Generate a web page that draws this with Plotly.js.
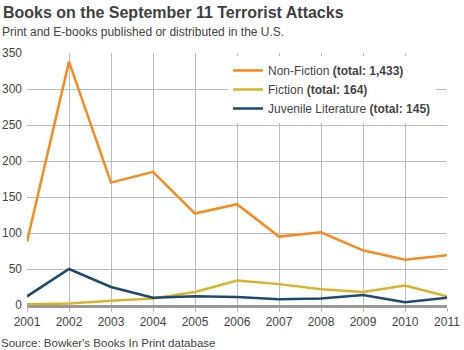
<!DOCTYPE html>
<html>
<head>
<meta charset="utf-8">
<script src="https://cdn.plot.ly/plotly-3.0.1.min.js"></script>
<style>html,body{margin:0;padding:0;background:#fff;}#chart{width:464px;height:350px;}</style>
</head>
<body>
<div id="chart"></div>
<script>
const years = [2001, 2002, 2003, 2004, 2005, 2006, 2007, 2008, 2009, 2010, 2011];
const nonFiction = [88, 338, 170, 185, 127, 140, 95, 101, 76, 63, 69];
const fiction = [1, 2, 6, 9, 18, 34, 29, 22, 18, 27, 12];
const juvenile = [12, 50, 25, 10, 12, 11, 8, 9, 14, 4, 10];
const seriesNames = [
  'Non-Fiction <b>(total: 1,433)</b>',
  'Fiction <b>(total: 164)</b>',
  'Juvenile Literature <b>(total: 145)</b>'
];
const yTicks = [0, 50, 100, 150, 200, 250, 300, 350];

const font = 'Liberation Sans, Arial, Helvetica, sans-serif';
const colors = ['#F68B1F', '#D8B42A', '#1D4A6F'];
const seriesData = [nonFiction, fiction, juvenile];

const traces = seriesData.map((vals, i) => ({
  x: years, y: vals, type: 'scatter', mode: 'lines', name: seriesNames[i],
  line: {color: colors[i], width: 2.5}
}));

const layout = {
  width: 464, height: 350,
  margin: {l: 27, r: 17, t: 53, b: 45},
  paper_bgcolor: '#fff', plot_bgcolor: '#fff',
  font: {family: font, color: '#444', size: 12},
  title: {
    text: '<b>Books on the September 11 Terrorist Attacks</b>',
    font: {family: font, size: 16, color: '#3f3f3f'},
    x: 3/464, xanchor: 'left', xref: 'container',
    y: 1 - 12/350, yanchor: 'middle', yref: 'container'
  },
  xaxis: {
    range: [2001, 2011], tickvals: years, ticktext: years.map(String),
    showgrid: true, gridcolor: '#bbb', gridwidth: 1,
    ticks: 'outside', ticklen: 4, tickcolor: '#bbb',
    showline: true, linecolor: '#999', linewidth: 3,
    zeroline: false, tickfont: {size: 12, color: '#444'}, fixedrange: true
  },
  yaxis: {
    range: [0, 350], tickvals: yTicks,
    showgrid: true, gridcolor: '#bbb', gridwidth: 1,
    zeroline: false, showline: false, ticks: '',
    ticklabelstandoff: 4, tickfont: {size: 12, color: '#444'}, fixedrange: true
  },
  showlegend: true,
  legend: {
    x: (228 - 27) / 420, xanchor: 'left',
    y: (305 - 56) / 252, yanchor: 'top',
    bgcolor: '#fff', borderwidth: 0,
    font: {family: font, size: 12, color: '#444'},
    tracegroupgap: 0
  },
  annotations: [
    {
      text: 'Print and E-books published or distributed in the U.S.',
      xref: 'paper', yref: 'paper', x: (0 - 27) / 420, y: (305 - 32) / 252,
      xanchor: 'left', yanchor: 'middle', showarrow: false,
      font: {family: font, size: 12, color: '#444'}
    },
    {
      text: "Source: Bowker's Books In Print database",
      xref: 'paper', yref: 'paper', x: (-1 - 27) / 420, y: (305 - 343) / 252,
      xanchor: 'left', yanchor: 'middle', showarrow: false,
      font: {family: font, size: 11.5, color: '#444'}
    }
  ]
};

Plotly.newPlot('chart', traces, layout, {displayModeBar: false, staticPlot: true});
</script>
</body>
</html>
